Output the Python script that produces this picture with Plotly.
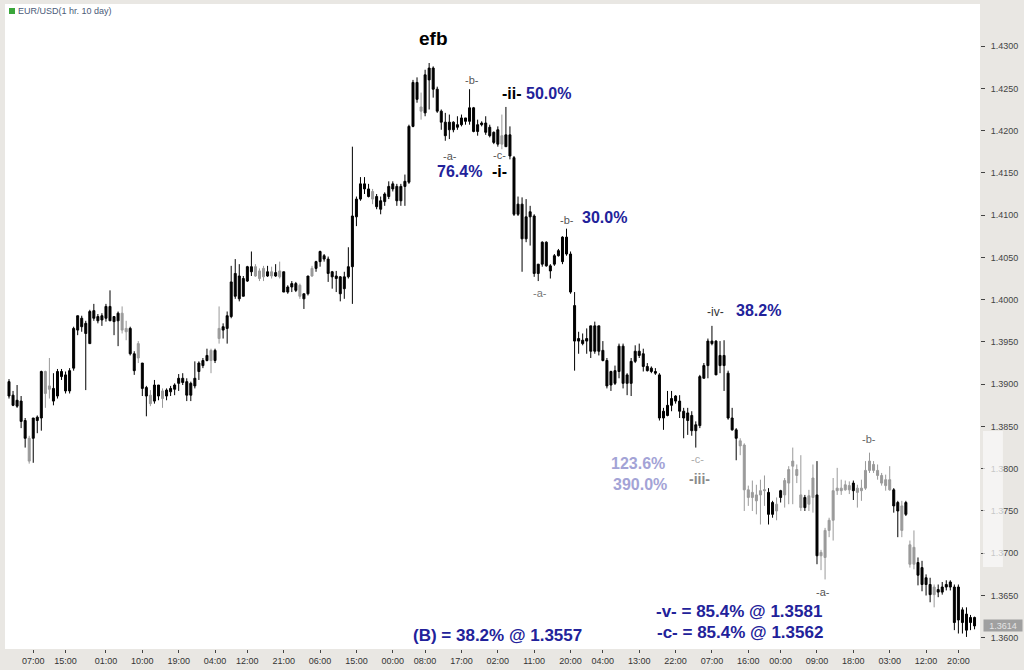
import plotly.graph_objects as go

# ---------------- data (EUR/USD, 1 hr bars, 10 days) ----------------
opens = [1.3903,1.3887,1.3874,1.3880,1.3857,1.3836,1.3836,1.3857,1.3860,1.3915,
         1.3894,1.3895,1.3886,1.3915,1.3911,1.3892,1.3919,1.3964,1.3978,1.3960,
         1.3948,1.3987,1.3975,1.3976,1.3978,1.3992,1.3974,1.3975,1.3984,1.3966,
         1.3966,1.3936,1.3931,1.3925,1.3896,1.3877,1.3880,1.3899,1.3883,1.3886,
         1.3891,1.3894,1.3901,1.3907,1.3903,1.3887,1.3898,1.3915,1.3922,1.3928,
         1.3940,1.3928,1.3954,1.3964,1.3966,1.3980,1.4031,1.4001,1.4025,1.4022,
         1.4039,1.4028,1.4034,1.4027,1.4033,1.4028,1.4032,1.4027,1.4033,1.4009,
         1.4015,1.4019,1.4017,1.4001,1.4007,1.4028,1.4037,1.4045,1.4052,1.4048,
         1.4033,1.4028,1.4027,1.4013,1.4027,1.4039,1.4098,1.4119,1.4137,1.4131,
         1.4128,1.4122,1.4107,1.4116,1.4122,1.4137,1.4134,1.4117,1.4134,1.4139,
         1.4205,1.4257,1.4228,1.4221,1.4260,1.4274,1.4249,1.4223,1.4210,1.4201,
         1.4210,1.4204,1.4207,1.4215,1.4211,1.4227,1.4199,1.4207,1.4209,1.4204,
         1.4198,1.4184,1.4194,1.4181,1.4195,1.4168,1.4101,1.4113,1.4072,1.4098,
         1.4099,1.4031,1.4042,1.4068,1.4040,1.4042,1.4052,1.4045,1.4074,1.4054,
         1.3993,1.3951,1.3952,1.3951,1.3939,1.3969,1.3939,1.3940,1.3928,1.3899,
         1.3916,1.3915,1.3945,1.3901,1.3901,1.3927,1.3939,1.3936,1.3921,1.3919,
         1.3915,1.3911,1.3860,1.3863,1.3875,1.3880,1.3880,1.3868,1.3857,1.3863,
         1.3845,1.3851,1.3907,1.3922,1.3951,1.3951,1.3922,1.3934,1.3913,1.3860,
         1.3846,1.3833,1.3828,1.3775,1.3766,1.3769,1.3769,1.3774,1.3772,1.3746,
         1.3758,1.3766,1.3769,1.3783,1.3803,1.3799,1.3769,1.3754,1.3758,1.3766,
         1.3769,1.3697,1.3695,1.3727,1.3739,1.3774,1.3777,1.3775,1.3780,1.3774,
         1.3777,1.3774,1.3777,1.3798,1.3805,1.3798,1.3792,1.3787,1.3775,1.3775,
         1.3760,1.3756,1.3746,1.3710,1.3687,1.3689,1.3683,1.3663,1.3663,1.3651,
         1.3657,1.3654,1.3660,1.3660,1.3660,1.3621,1.3633,1.3628,1.3618,1.3624]
highs = [1.3906,1.3892,1.3899,1.3886,1.3860,1.3839,1.3860,1.3863,1.3916,1.3916,
         1.3931,1.3913,1.3918,1.3918,1.3915,1.3919,1.3968,1.3981,1.3981,1.3975,
         1.3988,1.3995,1.3983,1.3984,1.3995,1.4011,1.3980,1.3986,1.3992,1.3975,
         1.3968,1.3939,1.3951,1.3925,1.3898,1.3893,1.3905,1.3899,1.3895,1.3895,
         1.3898,1.3901,1.3912,1.3913,1.3907,1.3903,1.3927,1.3927,1.3931,1.3942,
         1.3942,1.3942,1.3992,1.3972,1.3986,1.4040,1.4048,1.4042,1.4028,1.4040,
         1.4057,1.4042,1.4037,1.4040,1.4040,1.4039,1.4042,1.4045,1.4033,1.4017,
         1.4022,1.4021,1.4019,1.4007,1.4028,1.4040,1.4046,1.4058,1.4054,1.4051,
         1.4034,1.4034,1.4028,1.4033,1.4062,1.4181,1.4122,1.4145,1.4145,1.4137,
         1.4131,1.4125,1.4122,1.4127,1.4140,1.4140,1.4137,1.4137,1.4148,1.4207,
         1.4260,1.4263,1.4245,1.4272,1.4280,1.4276,1.4252,1.4225,1.4221,1.4219,
         1.4211,1.4217,1.4219,1.4215,1.4249,1.4228,1.4213,1.4211,1.4217,1.4207,
         1.4199,1.4205,1.4219,1.4228,1.4205,1.4170,1.4122,1.4121,1.4119,1.4111,
         1.4101,1.4042,1.4069,1.4069,1.4042,1.4054,1.4060,1.4075,1.4084,1.4057,
         1.4009,1.3962,1.3960,1.3966,1.3969,1.3974,1.3969,1.3951,1.3931,1.3916,
         1.3922,1.3948,1.3948,1.3913,1.3931,1.3946,1.3948,1.3942,1.3925,1.3921,
         1.3919,1.3913,1.3872,1.3892,1.3892,1.3887,1.3887,1.3872,1.3872,1.3868,
         1.3856,1.3911,1.3925,1.3954,1.3969,1.3952,1.3951,1.3952,1.3916,1.3872,
         1.3848,1.3836,1.3830,1.3780,1.3786,1.3781,1.3787,1.3792,1.3777,1.3762,
         1.3766,1.3775,1.3789,1.3803,1.3825,1.3805,1.3816,1.3769,1.3775,1.3805,
         1.3809,1.3704,1.3730,1.3742,1.3789,1.3801,1.3787,1.3786,1.3785,1.3786,
         1.3781,1.3787,1.3809,1.3819,1.3809,1.3805,1.3795,1.3793,1.3803,1.3777,
         1.3762,1.3762,1.3762,1.3715,1.3727,1.3695,1.3691,1.3675,1.3671,1.3663,
         1.3663,1.3666,1.3668,1.3668,1.3663,1.3663,1.3636,1.3636,1.3627,1.3625]
lows = [1.3883,1.3874,1.3872,1.3848,1.3825,1.3806,1.3807,1.3842,1.3845,1.3872,
        1.3883,1.3875,1.3883,1.3905,1.3889,1.3889,1.3916,1.3958,1.3962,1.3893,
        1.3948,1.3975,1.3972,1.3969,1.3974,1.3975,1.3958,1.3945,1.3960,1.3952,
        1.3934,1.3911,1.3925,1.3886,1.3862,1.3874,1.3877,1.3881,1.3872,1.3881,
        1.3886,1.3887,1.3892,1.3899,1.3880,1.3880,1.3895,1.3905,1.3919,1.3927,
        1.3913,1.3925,1.3948,1.3954,1.3948,1.3978,1.4001,1.3998,1.4004,1.4021,
        1.4028,1.4027,1.4022,1.4022,1.4027,1.4025,1.4027,1.4025,1.4009,1.4007,
        1.4009,1.4009,1.4001,1.3989,1.4005,1.4027,1.4033,1.4039,1.4045,1.4021,
        1.4013,1.4009,1.3998,1.4001,1.4025,1.3995,1.4087,1.4117,1.4125,1.4121,
        1.4113,1.4107,1.4101,1.4111,1.4119,1.4128,1.4111,1.4111,1.4111,1.4137,
        1.4204,1.4233,1.4213,1.4217,1.4225,1.4239,1.4221,1.4201,1.4188,1.4190,
        1.4198,1.4201,1.4205,1.4207,1.4207,1.4198,1.4194,1.4205,1.4195,1.4192,
        1.4184,1.4181,1.4178,1.4181,1.4166,1.4099,1.4099,1.4033,1.4068,1.4064,
        1.4027,1.4022,1.4039,1.4039,1.4025,1.4040,1.4051,1.4042,1.4052,1.4007,
        1.3916,1.3936,1.3946,1.3936,1.3931,1.3936,1.3934,1.3927,1.3895,1.3892,
        1.3899,1.3907,1.3895,1.3887,1.3886,1.3925,1.3931,1.3915,1.3915,1.3913,
        1.3911,1.3857,1.3846,1.3862,1.3868,1.3877,1.3860,1.3836,1.3840,1.3839,
        1.3825,1.3848,1.3907,1.3907,1.3946,1.3911,1.3913,1.3892,1.3858,1.3845,
        1.3810,1.3816,1.3750,1.3756,1.3750,1.3746,1.3734,1.3756,1.3734,1.3742,
        1.3739,1.3760,1.3754,1.3758,1.3758,1.3783,1.3750,1.3750,1.3750,1.3748,
        1.3687,1.3680,1.3669,1.3719,1.3715,1.3769,1.3769,1.3774,1.3770,1.3763,
        1.3754,1.3762,1.3775,1.3795,1.3795,1.3787,1.3780,1.3774,1.3774,1.3748,
        1.3719,1.3719,1.3744,1.3683,1.3681,1.3662,1.3655,1.3650,1.3642,1.3636,
        1.3648,1.3651,1.3656,1.3656,1.3609,1.3605,1.3605,1.3601,1.3609,1.3610]
closes = [1.3886,1.3875,1.3881,1.3856,1.3836,1.3809,1.3860,1.3861,1.3915,1.3889,
          1.3898,1.3880,1.3915,1.3909,1.3892,1.3916,1.3966,1.3981,1.3968,1.3972,
          1.3986,1.3978,1.3980,1.3981,1.3992,1.3975,1.3980,1.3984,1.3964,1.3962,
          1.3936,1.3916,1.3948,1.3895,1.3886,1.3887,1.3899,1.3886,1.3892,1.3893,
          1.3895,1.3899,1.3907,1.3902,1.3887,1.3901,1.3907,1.3925,1.3928,1.3934,
          1.3928,1.3940,1.3966,1.3968,1.3981,1.4021,1.4004,1.4028,1.4004,1.4039,
          1.4033,1.4039,1.4025,1.4037,1.4028,1.4033,1.4028,1.4034,1.4009,1.4015,
          1.4019,1.4011,1.4004,1.4007,1.4028,1.4037,1.4045,1.4057,1.4048,1.4031,
          1.4027,1.4025,1.4007,1.4027,1.4039,1.4099,1.4119,1.4137,1.4131,1.4122,
          1.4119,1.4110,1.4117,1.4125,1.4134,1.4131,1.4117,1.4134,1.4140,1.4205,
          1.4257,1.4237,1.4223,1.4266,1.4274,1.4249,1.4223,1.4210,1.4194,1.4210,
          1.4201,1.4207,1.4215,1.4211,1.4227,1.4199,1.4207,1.4209,1.4198,1.4194,
          1.4186,1.4201,1.4184,1.4195,1.4170,1.4101,1.4113,1.4072,1.4098,1.4104,
          1.4031,1.4042,1.4068,1.4040,1.4034,1.4052,1.4058,1.4074,1.4054,1.4009,
          1.3951,1.3954,1.3948,1.3954,1.3969,1.3939,1.3969,1.3928,1.3898,1.3915,
          1.3901,1.3945,1.3901,1.3911,1.3927,1.3939,1.3934,1.3921,1.3916,1.3915,
          1.3913,1.3860,1.3868,1.3875,1.3883,1.3886,1.3868,1.3860,1.3866,1.3845,
          1.3852,1.3909,1.3922,1.3951,1.3948,1.3911,1.3934,1.3922,1.3860,1.3846,
          1.3836,1.3827,1.3775,1.3766,1.3772,1.3762,1.3774,1.3775,1.3746,1.3760,
          1.3750,1.3774,1.3786,1.3799,1.3809,1.3792,1.3754,1.3766,1.3768,1.3789,
          1.3697,1.3701,1.3727,1.3739,1.3774,1.3777,1.3774,1.3781,1.3775,1.3783,
          1.3772,1.3777,1.3798,1.3809,1.3798,1.3792,1.3783,1.3780,1.3787,1.3756,
          1.3750,1.3727,1.3760,1.3687,1.3707,1.3674,1.3663,1.3671,1.3651,1.3660,
          1.3654,1.3660,1.3663,1.3666,1.3618,1.3660,1.3618,1.3609,1.3624,1.3614]
# bars drawn in grey in the original chart
grey_bars = [5, 9, 10, 28, 29, 32, 35, 38, 50, 52, 61, 62, 63, 65, 67, 72, 75, 90,
             102, 122, 181, 182, 183, 184, 185, 186, 187, 190, 192, 193, 194, 195,
             196, 198, 199, 201, 202, 203, 204, 205, 206, 207, 208, 210, 211, 212,
             213, 214, 215, 216, 217, 218, 221, 223, 224, 229]
tick_bars = [6, 14, 24, 33, 42, 51, 59, 68, 77, 86, 95, 103, 112, 121, 130, 139,
             147, 156, 165, 174, 183, 191, 200, 209, 218, 227, 235]
tick_text = ["07:00", "15:00", "01:00", "10:00", "19:00", "04:00", "12:00", "21:00",
             "06:00", "15:00", "00:00", "08:00", "17:00", "02:00", "11:00", "20:00",
             "04:00", "13:00", "22:00", "07:00", "16:00", "00:00", "09:00", "18:00",
             "03:00", "12:00", "20:00"]
price_ticks = [1.3600, 1.3650, 1.3700, 1.3750, 1.3800, 1.3850, 1.3900, 1.3950,
               1.4000, 1.4050, 1.4100, 1.4150, 1.4200, 1.4250, 1.4300]
last_price = 1.3614
title_text = "EUR/USD(1 hr. 10 day)"

# ---------------- figure ----------------
idx = list(range(len(closes)))
grey_set = set(grey_bars)


def candle(sel, colour, name):
    return go.Candlestick(
        x=[i for i in sel], open=[opens[i] for i in sel], high=[highs[i] for i in sel],
        low=[lows[i] for i in sel], close=[closes[i] for i in sel], name=name,
        increasing=dict(line=dict(color=colour, width=1), fillcolor=colour),
        decreasing=dict(line=dict(color=colour, width=1), fillcolor=colour),
        whiskerwidth=0, showlegend=False, hoverinfo="skip")


fig = go.Figure()
fig.add_trace(candle([i for i in idx if i in grey_set], "#9a9a9a", "grey"))
fig.add_trace(candle([i for i in idx if i not in grey_set], "#000000", "black"))

BLUE = "#22229a"
FONT = "Liberation Sans, Arial, sans-serif"


def note(x, y, text, size=16, color=BLUE, bold=True):
    t = f"<b>{text}</b>" if bold else text
    fig.add_annotation(x=x, y=y, xref="x", yref="y", text=t, showarrow=False,
                       font=dict(family=FONT, size=size, color=color))


note(105.0, 1.4309, "efb", size=19, color="#000000")
note(114.6, 1.4260, "-b-", size=11, color="#555555", bold=False)
note(130.5, 1.42437, "<span style='color:#000000'>-ii-</span> 50.0%")
note(109.2, 1.41697, "-a-", size=11, color="#555555", bold=False)
note(111.4, 1.41521, "76.4%")
note(121.3, 1.41709, "-c-", size=11, color="#555555", bold=False)
note(121.5, 1.41521, "-i-", color="#000000")
note(138.1, 1.40944, "-b-", size=11, color="#555555", bold=False)
note(147.3, 1.40967, "30.0%")
note(131.4, 1.40083, "-a-", size=11, color="#777777", bold=False)
note(175.0, 1.39860, "-iv-", size=12, color="#333333", bold=False)
note(185.6, 1.39872, "38.2%")
note(155.7, 1.38058, "123.6%", color="#a3a3d6")
note(156.2, 1.37811, "390.0%", color="#a3a3d6")
note(170.3, 1.38117, "-c-", size=11, color="#aaaaaa", bold=False)
note(170.8, 1.37881, "-iii-", size=14, color="#8a8a8a")
note(212.9, 1.38352, "-b-", size=11, color="#666666", bold=False)
note(201.5, 1.36538, "-a-", size=11, color="#555555", bold=False)
note(180.7, 1.36314, "-v- = 85.4% @ 1.3581", size=17)
note(180.9, 1.36067, "-c- = 85.4% @ 1.3562", size=17)
note(120.8, 1.36032, "(B) = 38.2% @ 1.3557", size=17)

# title tag at top-left
fig.add_annotation(x=0, y=1, xref="paper", yref="paper", xanchor="left", yanchor="middle",
                   xshift=11, yshift=-7, text=title_text, showarrow=False,
                   font=dict(family=FONT, size=9, color="#4a5a78"))
fig.add_shape(type="rect", xref="paper", yref="paper", xsizemode="pixel", ysizemode="pixel",
              xanchor=0, yanchor=1, x0=4, x1=10, y0=-4, y1=-10,
              fillcolor="#3aa63a", line=dict(width=0))

# last price marker on the price axis
fig.add_annotation(x=1, y=last_price, xref="paper", yref="y", xanchor="left", yanchor="middle",
                   xshift=3, text=f"{last_price:.4f}", showarrow=False, bgcolor="#a0a0a0",
                   width=38, height=11, borderpad=0,
                   font=dict(family=FONT, size=9, color="#e4e4e4"))
# faded patch on the price axis
fig.add_shape(type="rect", xref="paper", yref="paper", x0=1.003, x1=1.0235, y0=0.127, y1=0.338,
              fillcolor="rgba(250,250,250,0.72)", line=dict(width=0), layer="above")

fig.update_layout(
    width=1024, height=670, autosize=False,
    margin=dict(l=5, r=44, t=4, b=18),
    paper_bgcolor="#e9e7e3", plot_bgcolor="#ffffff",
    font=dict(family=FONT, size=9, color="#333333"),
    showlegend=False,
    xaxis=dict(range=[-0.99, 240.35], tickmode="array", tickvals=tick_bars, ticktext=tick_text,
               ticks="outside", ticklen=3, tickcolor="#444444", showgrid=False, zeroline=False,
               showline=False, rangeslider=dict(visible=False),
               tickfont=dict(family=FONT, size=9, color="#333333")),
    yaxis=dict(range=[1.35867, 1.43498], side="right", tickmode="array", tickvals=price_ticks,
               ticktext=[f"{v:.4f}" for v in price_ticks], ticks="outside", ticklen=4,
               tickcolor="#444444", showgrid=False, zeroline=False, showline=False,
               ticklabelstandoff=4, tickfont=dict(family=FONT, size=9, color="#444444")),
)

fig.write_html("out.html", config={"displayModeBar": False},
               post_script="document.body.style.margin='0';document.body.style.overflow='hidden';")
